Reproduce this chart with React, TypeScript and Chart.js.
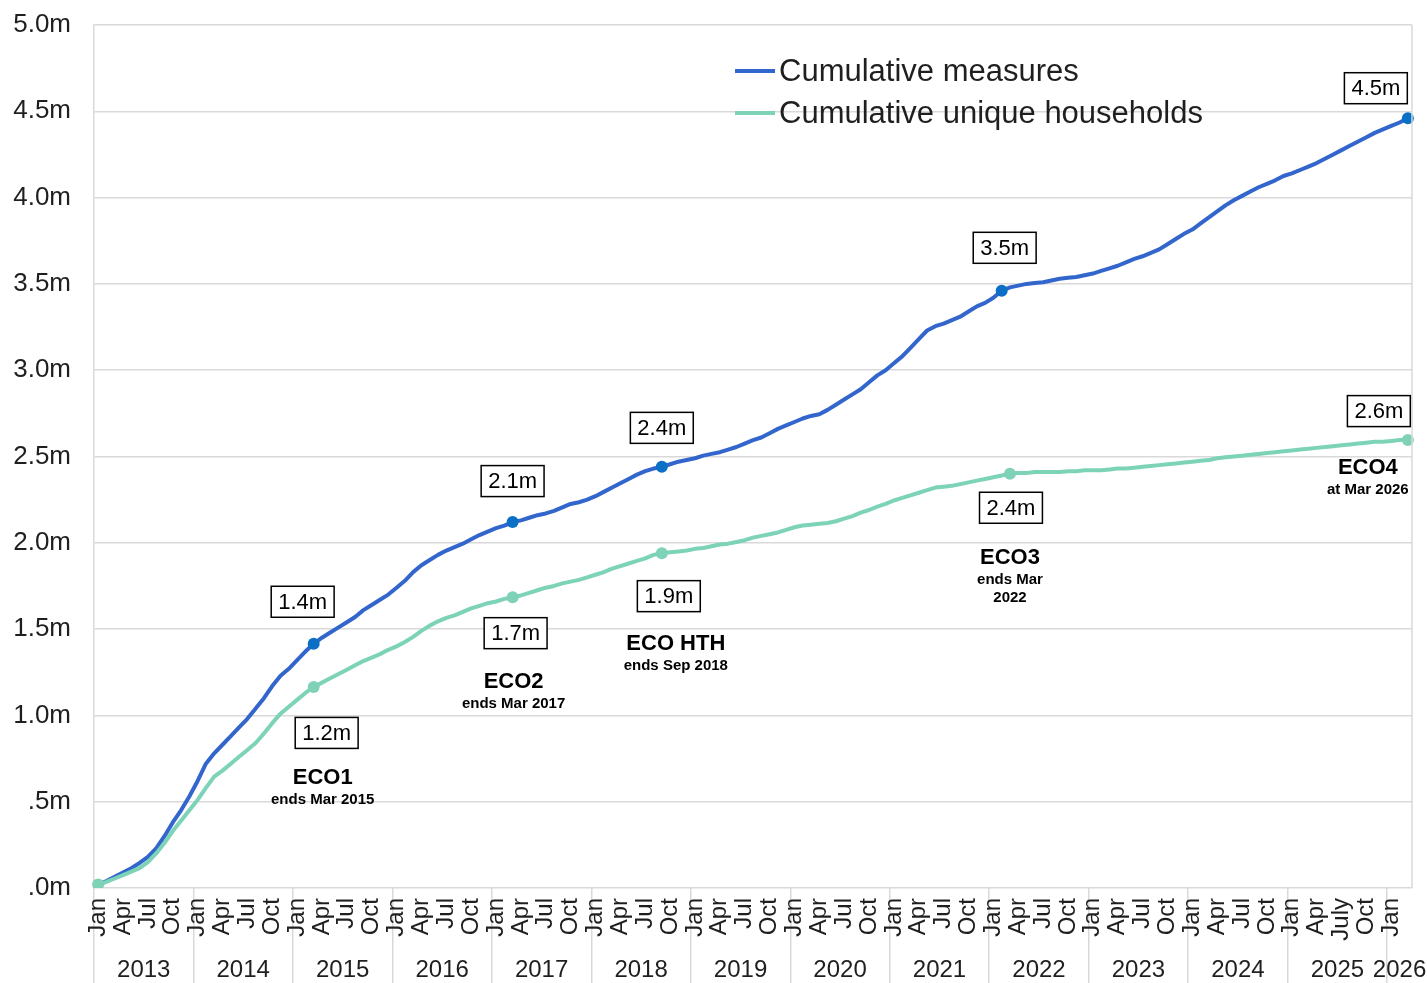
import { useEffect, useRef } from 'react';
import { Chart, registerables } from 'chart.js';

Chart.register(...registerables);

// ---- data -------------------------------------------------------------

const years = [2013, 2014, 2015, 2016, 2017, 2018, 2019, 2020, 2021, 2022, 2023, 2024, 2025, 2026];
const monthNames = ['Jan', 'Feb', 'Mar', 'Apr', 'May', 'Jun', 'Jul', 'Aug', 'Sep', 'Oct', 'Nov', 'Dec'];
const monthsInFinalYear = 3; // series runs to Mar 2026

// quarter-month tick labels; one spelled out in full on the axis
const quarterTicks: Record<string, string> = { Jan: 'Jan', Apr: 'Apr', Jul: 'Jul', Oct: 'Oct' };
const tickOverrides: Record<string, string> = { 'Jul 2025': 'July' };

const seriesNames = ['Cumulative measures', 'Cumulative unique households'];

// millions, monthly
const cumulativeMeasures = [
  0.02, 0.04, 0.065, 0.09, 0.115, 0.145, 0.18, 0.23, 0.30, 0.38, 0.45, 0.53,
  0.62, 0.72, 0.78, 0.83, 0.88, 0.93, 0.98, 1.04, 1.10, 1.17, 1.23, 1.27,
  1.32, 1.37, 1.415, 1.45, 1.48, 1.51, 1.54, 1.57, 1.61, 1.64, 1.67, 1.70,
  1.74, 1.78, 1.83, 1.87, 1.90, 1.93, 1.955, 1.975, 1.995, 2.02, 2.045, 2.065,
  2.085, 2.10, 2.12, 2.13, 2.145, 2.16, 2.17, 2.185, 2.205, 2.225, 2.235, 2.25,
  2.27, 2.295, 2.32, 2.345, 2.37, 2.395, 2.415, 2.43, 2.44, 2.455, 2.47, 2.48,
  2.49, 2.505, 2.515, 2.525, 2.54, 2.555, 2.575, 2.595, 2.61, 2.635, 2.66, 2.68,
  2.70, 2.72, 2.735, 2.745, 2.77, 2.80, 2.83, 2.86, 2.89, 2.93, 2.97, 3.00,
  3.04, 3.08, 3.13, 3.18, 3.23, 3.255, 3.27, 3.29, 3.31, 3.34, 3.37, 3.39,
  3.42, 3.46, 3.48, 3.49, 3.50, 3.505, 3.51, 3.52, 3.53, 3.535, 3.54, 3.55,
  3.56, 3.575, 3.59, 3.605, 3.625, 3.645, 3.66, 3.68, 3.70, 3.73, 3.76, 3.79,
  3.815, 3.85, 3.885, 3.92, 3.955, 3.985, 4.01, 4.035, 4.06, 4.08, 4.10, 4.125,
  4.14, 4.16, 4.18, 4.20, 4.225, 4.25, 4.275, 4.30, 4.325, 4.35, 4.375, 4.395,
  4.415, 4.435, 4.46,
];

const cumulativeHouseholds = [
  0.02, 0.035, 0.055, 0.075, 0.095, 0.115, 0.15, 0.20, 0.26, 0.33, 0.39, 0.45,
  0.51, 0.58, 0.645, 0.68, 0.72, 0.76, 0.80, 0.84, 0.895, 0.955, 1.01, 1.05,
  1.09, 1.13, 1.165, 1.19, 1.215, 1.24, 1.265, 1.29, 1.315, 1.335, 1.355, 1.38,
  1.40, 1.425, 1.455, 1.49, 1.52, 1.545, 1.565, 1.58, 1.60, 1.62, 1.635, 1.65,
  1.66, 1.675, 1.685, 1.695, 1.71, 1.725, 1.74, 1.75, 1.765, 1.775, 1.785, 1.80,
  1.815, 1.83, 1.85, 1.865, 1.88, 1.895, 1.91, 1.93, 1.94, 1.945, 1.95, 1.955,
  1.965, 1.97, 1.98, 1.99, 1.995, 2.005, 2.015, 2.03, 2.04, 2.05, 2.06, 2.075,
  2.09, 2.10, 2.105, 2.11, 2.115, 2.125, 2.14, 2.155, 2.175, 2.19, 2.21, 2.225,
  2.245, 2.26, 2.275, 2.29, 2.305, 2.32, 2.325, 2.33, 2.34, 2.35, 2.36, 2.37,
  2.38, 2.39, 2.40, 2.405, 2.405, 2.41, 2.41, 2.41, 2.41, 2.415, 2.415, 2.42,
  2.42, 2.42, 2.425, 2.43, 2.43, 2.435, 2.44, 2.445, 2.45, 2.455, 2.46, 2.465,
  2.47, 2.475, 2.48, 2.49, 2.495, 2.50, 2.505, 2.51, 2.515, 2.52, 2.525, 2.53,
  2.535, 2.54, 2.545, 2.55, 2.555, 2.56, 2.565, 2.57, 2.575, 2.58, 2.585, 2.585,
  2.59, 2.595, 2.595,
];

// scheme milestones, with the month each series is marked at
const schemeNames = ['ECO1', 'ECO2', 'ECO HTH', 'ECO3', 'ECO4'];
const schemeNotes = [['ends Mar 2015'], ['ends Mar 2017'], ['ends Sep 2018'], ['ends Mar', '2022'], ['at Mar 2026']];
const measuresMarkerMonths = ['Mar 2015', 'Mar 2017', 'Sep 2018', 'Feb 2022', 'Mar 2026'];
const householdsMarkerMonths = ['Mar 2015', 'Mar 2017', 'Sep 2018', 'Mar 2022', 'Mar 2026'];

const yTickValues = [0, 0.5, 1, 1.5, 2, 2.5, 3, 3.5, 4, 4.5, 5];

// ---- derived ----------------------------------------------------------

const categories: string[] = years.flatMap((y, yi) =>
  monthNames.slice(0, yi === years.length - 1 ? monthsInFinalYear : 12).map((m) => `${m} ${y}`)
);
const tickLabels = categories.map((c) => tickOverrides[c] ?? quarterTicks[c.split(' ')[0]] ?? '');
const measuresMarkerIdx = measuresMarkerMonths.map((m) => categories.indexOf(m));
const householdsMarkerIdx = householdsMarkerMonths.map((m) => categories.indexOf(m));

// ---- look -------------------------------------------------------------

const FONT = "'Liberation Sans', Arial, sans-serif";
const BLUE = '#3366cc';
const BLUE_DOT = '#0b6fc6';
const TEAL = '#7dd3b8';
const TEAL_DOT = '#7fd1b7';
const GRID = '#d9d9d9';
const INK = '#1f1f1f';

// value-box offsets (px) from each marked point
const measuresBoxOffset = [[-11, -42], [0, -41], [0, -39], [3, -43], [-32, -30]];
const householdsBoxOffset = [[13, 46], [3, 36], [7, 43], [1, 34], [-29, -29]];
// scheme caption offsets (px) from the households marker
const schemeCaptionOffset = [[9, 91], [1, 85], [14, 91], [0, 84], [-40, 28]];

const legendLayout = { x1: 735, x2: 775, textX: 779, rows: [71, 113] };

const fmtMillions = (v: number) => `${(Math.round(v * 10) / 10).toFixed(1)}m`;

const overlayPlugin = {
  id: 'overlay',
  afterDraw(chart: any) {
    const { ctx, chartArea, scales } = chart;
    const x = scales.x;
    const y = scales.y;
    ctx.save();

    // right border of plot area
    ctx.strokeStyle = GRID;
    ctx.lineWidth = 1.5;
    ctx.beginPath();
    ctx.moveTo(chartArea.right, chartArea.top);
    ctx.lineTo(chartArea.right, chartArea.bottom);
    ctx.stroke();

    // year labels centred under each year's months
    ctx.fillStyle = INK;
    ctx.font = `24px ${FONT}`;
    ctx.textAlign = 'center';
    ctx.textBaseline = 'middle';
    years.forEach((yr) => {
      const first = categories.findIndex((c) => c.endsWith(String(yr)));
      let last = first;
      while (last + 1 < categories.length && categories[last + 1].endsWith(String(yr))) last++;
      const cx = (x.getPixelForValue(first) + x.getPixelForValue(last)) / 2;
      ctx.fillText(String(yr), cx, 970);
    });

    // legend
    const colors = [BLUE, TEAL];
    seriesNames.forEach((name, i) => {
      const ly = legendLayout.rows[i];
      ctx.strokeStyle = colors[i];
      ctx.lineWidth = 4;
      ctx.beginPath();
      ctx.moveTo(legendLayout.x1, ly);
      ctx.lineTo(legendLayout.x2, ly);
      ctx.stroke();
      ctx.fillStyle = INK;
      ctx.font = `31px ${FONT}`;
      ctx.textAlign = 'left';
      ctx.textBaseline = 'middle';
      ctx.fillText(name, legendLayout.textX, ly + 1);
    });

    // value boxes
    const drawBox = (text: string, cx: number, cy: number) => {
      ctx.font = `22px ${FONT}`;
      const w = ctx.measureText(text).width + 14;
      const h = 31;
      ctx.fillStyle = '#ffffff';
      ctx.fillRect(cx - w / 2, cy - h / 2, w, h);
      ctx.strokeStyle = '#000000';
      ctx.lineWidth = 1.5;
      ctx.strokeRect(cx - w / 2, cy - h / 2, w, h);
      ctx.fillStyle = '#000000';
      ctx.textAlign = 'center';
      ctx.textBaseline = 'middle';
      ctx.fillText(text, cx, cy + 1);
    };
    measuresMarkerIdx.forEach((idx, i) => {
      const v = cumulativeMeasures[idx];
      const [dx, dy] = measuresBoxOffset[i];
      drawBox(fmtMillions(v), x.getPixelForValue(idx) + dx, y.getPixelForValue(v) + dy);
    });
    householdsMarkerIdx.forEach((idx, i) => {
      const v = cumulativeHouseholds[idx];
      const [dx, dy] = householdsBoxOffset[i];
      drawBox(fmtMillions(v), x.getPixelForValue(idx) + dx, y.getPixelForValue(v) + dy);
    });

    // scheme captions
    schemeNames.forEach((name, i) => {
      const idx = householdsMarkerIdx[i];
      const [dx, dy] = schemeCaptionOffset[i];
      const cx = x.getPixelForValue(idx) + dx;
      const cy = y.getPixelForValue(cumulativeHouseholds[idx]) + dy;
      ctx.fillStyle = '#000000';
      ctx.textAlign = 'center';
      ctx.textBaseline = 'middle';
      ctx.font = `bold 22px ${FONT}`;
      ctx.fillText(name, cx, cy);
      ctx.font = `bold 15px ${FONT}`;
      schemeNotes[i].forEach((line, li) => {
        ctx.fillText(line, cx, cy + 22 + li * 18);
      });
    });

    ctx.restore();
  },
};

export default function App() {
  const canvasRef = useRef<HTMLCanvasElement | null>(null);

  useEffect(() => {
    if (!canvasRef.current) return;
    const mSet = new Set(measuresMarkerIdx);
    const hSet = new Set([0, ...householdsMarkerIdx]);

    const chart = new Chart(canvasRef.current, {
      type: 'line',
      data: {
        labels: categories,
        datasets: [
          {
            label: seriesNames[0],
            data: cumulativeMeasures,
            borderColor: BLUE,
            backgroundColor: BLUE_DOT,
            borderWidth: 4,
            tension: 0,
            borderJoinStyle: 'round',
            borderCapStyle: 'round',
            pointRadius: (c: any) => (mSet.has(c.dataIndex) ? 6 : 0),
            pointBackgroundColor: BLUE_DOT,
            pointBorderWidth: 0,
            order: 1,
          },
          {
            label: seriesNames[1],
            data: cumulativeHouseholds,
            borderColor: TEAL,
            backgroundColor: TEAL_DOT,
            borderWidth: 4,
            tension: 0,
            borderJoinStyle: 'round',
            borderCapStyle: 'round',
            pointRadius: (c: any) => (hSet.has(c.dataIndex) ? 6 : 0),
            pointBackgroundColor: TEAL_DOT,
            pointBorderWidth: 0,
            order: 0,
          },
        ],
      },
      options: {
        responsive: false,
        animation: false,
        devicePixelRatio: 1,
        layout: { padding: { top: 25, right: 15, bottom: 0, left: 0 } },
        plugins: {
          legend: { display: false },
          tooltip: { enabled: false },
        },
        scales: {
          x: {
            type: 'category',
            offset: true,
            grid: {
              offset: true,
              drawOnChartArea: false,
              drawTicks: true,
              tickLength: 95,
              lineWidth: 1.5,
              color: (c: any) => (typeof c.index === 'number' && c.index % 12 === 0 ? GRID : 'rgba(0,0,0,0)'),
            },
            border: { display: false },
            ticks: {
              autoSkip: false,
              minRotation: 90,
              maxRotation: 90,
              padding: -85,
              color: INK,
              font: { family: FONT, size: 24 },
              callback: (_v: any, i: number) => tickLabels[i],
            },
            afterFit: (s: any) => {
              s.height = 95;
            },
          },
          y: {
            min: 0,
            max: 5,
            afterBuildTicks: (s: any) => {
              s.ticks = yTickValues.map((v) => ({ value: v }));
            },
            grid: { color: GRID, lineWidth: 1.5, drawTicks: false },
            border: { display: true, color: GRID, width: 1.5 },
            ticks: {
              padding: 23,
              color: INK,
              font: { family: FONT, size: 26 },
              callback: (v: any) => {
                const s = Number(v).toFixed(1);
                return (s.startsWith('0') ? s.slice(1) : s) + 'm';
              },
            },
            afterFit: (s: any) => {
              s.width = 94;
              s.paddingTop = 0;
              s.paddingBottom = 0;
            },
          },
        },
      },
      plugins: [overlayPlugin],
    } as any);

    return () => chart.destroy();
  }, []);

  return (
    <div style={{ position: 'fixed', left: 0, top: 0, width: 1427, height: 983, background: '#ffffff' }}>
      <canvas ref={canvasRef} width={1427} height={983} style={{ display: 'block' }} />
    </div>
  );
}
